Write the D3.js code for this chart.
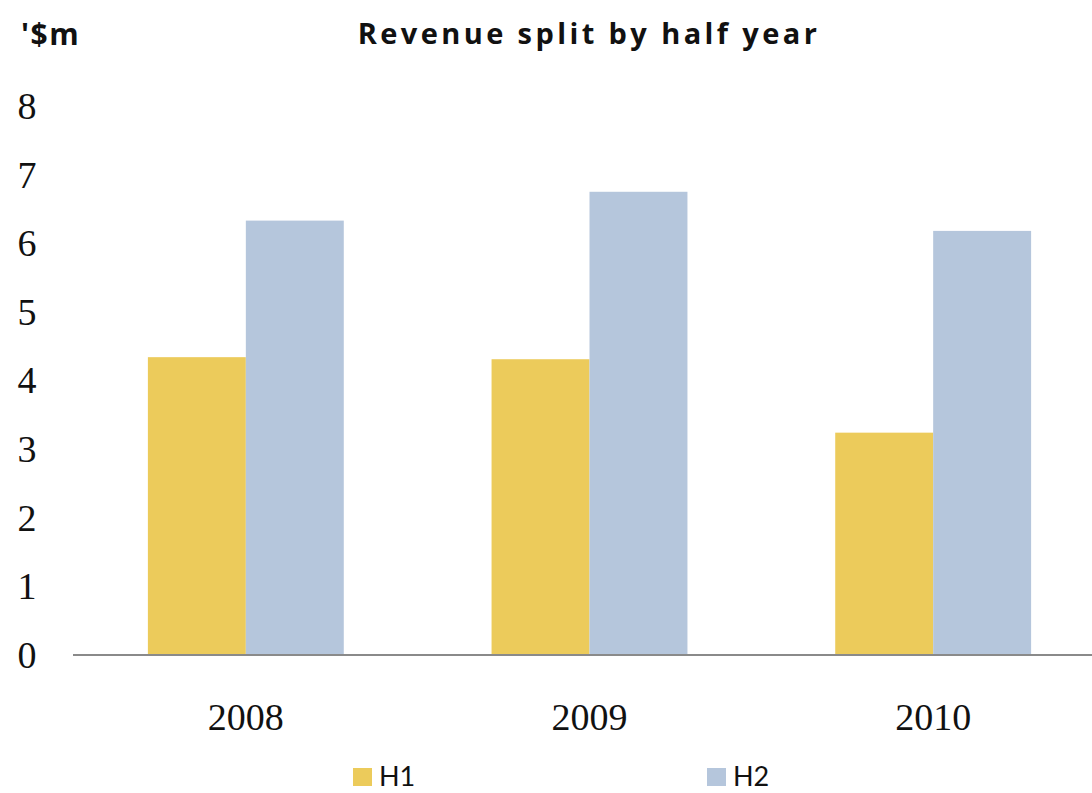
<!DOCTYPE html>
<html>
<head>
<meta charset="utf-8">
<script src="https://cdn.jsdelivr.net/npm/d3@7"></script>
<style>
  body { margin: 0; background: #fff; }
  svg { display: block; }
</style>
</head>
<body>
<div id="chart"></div>
<script>
// data
const years = ["2008", "2009", "2010"];
const halves = ["H1", "H2"];
const h1Values = [4.34, 4.31, 3.24];
const h2Values = [6.33, 6.75, 6.18];
const yTicks = [0, 1, 2, 3, 4, 5, 6, 7, 8];
const colors = { H1: "#ECCB5B", H2: "#B5C6DC" };

const width = 1092, height = 793;
const svg = d3.select("#chart").append("svg")
    .attr("width", width)
    .attr("height", height);

const rows = years.map((y, i) => ({ year: y, H1: h1Values[i], H2: h2Values[i] }));

// chart runs off the right edge, like the source
const x = d3.scaleBand().domain(years).range([74, 1105])
    .paddingInner(0.43).paddingOuter(0.215);
const xs = d3.scaleBand().domain(halves).range([0, x.bandwidth()]);
const y = d3.scaleLinear().domain([0, 8]).range([655, 106]);

// bars
const groups = svg.append("g").selectAll("g")
    .data(rows).join("g")
    .attr("transform", d => `translate(${x(d.year)},0)`);

groups.selectAll("rect")
    .data(d => halves.map(h => ({ key: h, value: d[h] })))
    .join("rect")
    .attr("x", d => xs(d.key))
    .attr("y", d => y(d.value))
    .attr("width", xs.bandwidth())
    .attr("height", d => y(0) - y(d.value))
    .attr("fill", d => colors[d.key]);

// baseline
svg.append("line")
    .attr("x1", 73).attr("x2", width)
    .attr("y1", y(0)).attr("y2", y(0))
    .attr("stroke", "#8a8a8a").attr("stroke-width", 2);

// y tick labels
svg.append("g").selectAll("text")
    .data(yTicks).join("text")
    .attr("x", 27)
    .attr("y", d => y(d))
    .attr("dy", "0.34em")
    .attr("text-anchor", "middle")
    .style("font-family", "'Liberation Serif', serif")
    .style("font-size", "38px")
    .attr("fill", "#111")
    .text(d => d);

// year labels
svg.append("g").selectAll("text")
    .data(years).join("text")
    .attr("x", d => x(d) + x.bandwidth() / 2)
    .attr("y", 730)
    .attr("text-anchor", "middle")
    .style("font-family", "'Liberation Serif', serif")
    .style("font-size", "38px")
    .attr("fill", "#111")
    .text(d => d);

// unit + title
svg.append("text")
    .attr("x", 21).attr("y", 45)
    .style("font-family", "'Open Sans', sans-serif")
    .style("font-weight", "bold")
    .style("font-size", "30px")
    .style("letter-spacing", "1.5px")
    .attr("fill", "#111")
    .text("'$m");

svg.append("text")
    .attr("x", 589).attr("y", 44)
    .attr("text-anchor", "middle")
    .style("font-family", "'Open Sans', sans-serif")
    .style("font-weight", "bold")
    .style("font-size", "29px")
    .style("letter-spacing", "3.4px")
    .attr("fill", "#111")
    .text("Revenue split by half year");

// legend
const legendX = { H1: 353, H2: 707 };
const legend = svg.append("g").selectAll("g")
    .data(halves).join("g")
    .attr("transform", d => `translate(${legendX[d]},768)`);
legend.append("rect")
    .attr("width", 19).attr("height", 18)
    .attr("fill", d => colors[d]);
legend.append("text")
    .attr("x", 26).attr("y", 18)
    .style("font-family", "Lato, sans-serif")
    .style("font-size", "27px")
    .attr("fill", "#111")
    .text(d => d);
</script>
</body>
</html>
